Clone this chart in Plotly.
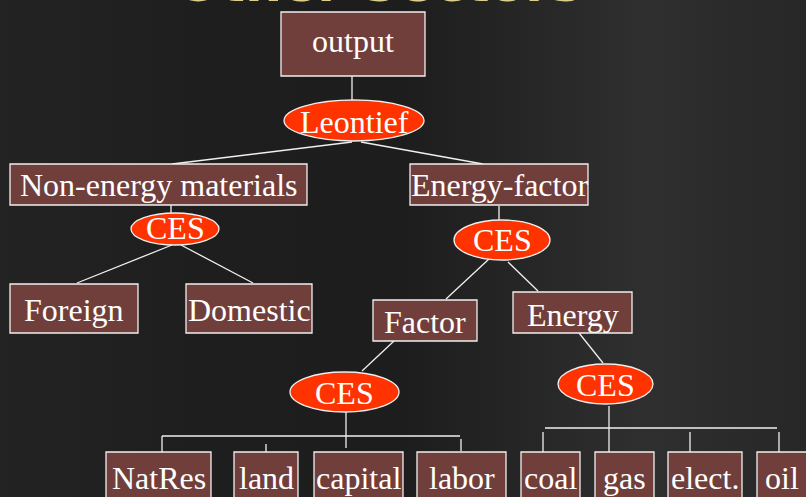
import plotly.graph_objects as go
import urllib.parse

# ---- diagram content ----
title_text = "Other Sectors"

node_ids = ["output", "leontief", "nonenergy", "energyfactor", "ces1", "ces2",
            "foreign", "domestic", "factor", "energy", "ces3", "ces4",
            "natres", "land", "capital", "labor", "coal", "gas", "elect", "oil"]
node_labels = ["output", "Leontief", "Non-energy materials", "Energy-factor", "CES", "CES",
               "Foreign", "Domestic", "Factor", "Energy", "CES", "CES",
               "NatRes", "land", "capital", "labor", "coal", "gas", "elect.", "oil"]
node_kinds = ["box", "ellipse", "box", "box", "ellipse", "ellipse",
              "box", "box", "box", "box", "ellipse", "ellipse",
              "box", "box", "box", "box", "box", "box", "box", "box"]

# ---- geometry (pixels, y downward) ----
node_x0 = [281, 284, 10, 410, 131, 454, 10, 186, 373, 513, 290, 558, 106, 234, 314, 417, 521, 595, 668, 757]
node_x1 = [425, 424, 307, 588, 219, 550, 138, 312, 477, 632, 399, 653, 211, 298, 403, 506, 580, 654, 742, 830]
node_y0 = [12, 100, 164, 164, 213, 220, 284, 284, 300, 292, 372, 364, 452, 452, 452, 452, 452, 452, 452, 452]
node_y1 = [76, 141, 205, 205, 245, 260, 333, 333, 341, 333, 412, 404, 520, 520, 520, 520, 520, 520, 520, 520]
text_y = [41, 122, 185, 185, 228, 240, 310, 310, 322, 315, 393, 385, 478, 478, 478, 478, 478, 478, 478, 478]

# connector segments (x0, y0, x1, y1)
connectors = [
    (352, 76, 352, 100),
    (352, 142, 172, 164), (361, 142, 483, 164),
    (171, 205, 171, 213),
    (499, 206, 499, 220),
    (172, 245, 77, 283), (181, 245, 253, 283),
    (489, 259, 446, 299), (508, 262, 538, 291),
    (394, 341, 362, 371),
    (579, 333, 603, 363),
    (346, 412, 346, 448), (162, 436, 460, 436),
    (162, 436, 162, 452), (266, 444, 266, 456), (461, 439, 461, 451),
    (609, 406, 609, 428), (545, 428, 777, 428),
    (543, 432, 543, 452), (609, 428, 609, 452), (690, 432, 690, 452), (779, 432, 779, 452),
]

W, H = 806, 497
BOX_FILL = "#713f3b"
ELL_FILL = "#ff3300"
EDGE = "#f0f0f0"

svg = (
    f"<svg xmlns='http://www.w3.org/2000/svg' width='{W}' height='{H}'>"
    "<defs><linearGradient id='g' x1='0' y1='0' x2='1' y2='0'>"
    "<stop offset='0' stop-color='#232323'/>"
    "<stop offset='0.25' stop-color='#1e1e1e'/>"
    "<stop offset='0.5' stop-color='#1d1d1d'/>"
    "<stop offset='0.8' stop-color='#2f2f2f'/>"
    "<stop offset='1' stop-color='#272727'/>"
    "</linearGradient></defs>"
    f"<rect width='{W}' height='{H}' fill='url(#g)'/></svg>"
)
bg_uri = "data:image/svg+xml;charset=utf-8," + urllib.parse.quote(svg)

fig = go.Figure()
fig.add_trace(go.Scatter(x=[0, W], y=[0, H], mode="markers",
                         marker=dict(opacity=0), hoverinfo="skip", showlegend=False))

shapes = []
for (a, b, c, d) in connectors:
    shapes.append(dict(type="line", x0=a, y0=b, x1=c, y1=d,
                       line=dict(color=EDGE, width=1.3), layer="above"))
for i in range(len(node_ids)):
    kind = node_kinds[i]
    shapes.append(dict(type="rect" if kind == "box" else "circle",
                       x0=node_x0[i], x1=node_x1[i], y0=node_y0[i], y1=node_y1[i],
                       fillcolor=BOX_FILL if kind == "box" else ELL_FILL,
                       line=dict(color=EDGE, width=1.3), layer="above"))

annotations = []
for i in range(len(node_ids)):
    cx = (node_x0[i] + node_x1[i]) / 2
    if node_ids[i] == "oil":
        cx = 782
    annotations.append(dict(x=cx, y=text_y[i], xref="x", yref="y", text=node_labels[i],
                            showarrow=False, xanchor="center", yanchor="middle",
                            font=dict(family="Liberation Serif", size=32, color="white")))
annotations.append(dict(x=379, y=15, xref="x", yref="y", text="<b>" + title_text + "</b>",
                        showarrow=False, xanchor="center", yanchor="bottom",
                        font=dict(family="DejaVu Sans", size=52, color="#dccf8e")))

fig.update_layout(
    width=W, height=H, margin=dict(l=0, r=0, t=0, b=0),
    paper_bgcolor="#222222", plot_bgcolor="rgba(0,0,0,0)",
    xaxis=dict(range=[0, W], visible=False, fixedrange=True),
    yaxis=dict(range=[H, 0], visible=False, fixedrange=True),
    shapes=shapes, annotations=annotations,
    images=[dict(source=bg_uri, xref="paper", yref="paper", x=0, y=1,
                 sizex=1, sizey=1, xanchor="left", yanchor="top",
                 sizing="stretch", layer="below")],
    showlegend=False,
)
fig.write_html("out.html", config={"displayModeBar": False},
               post_script="document.body.style.margin='0';document.body.style.overflow='hidden';document.body.style.background='#222222';")
